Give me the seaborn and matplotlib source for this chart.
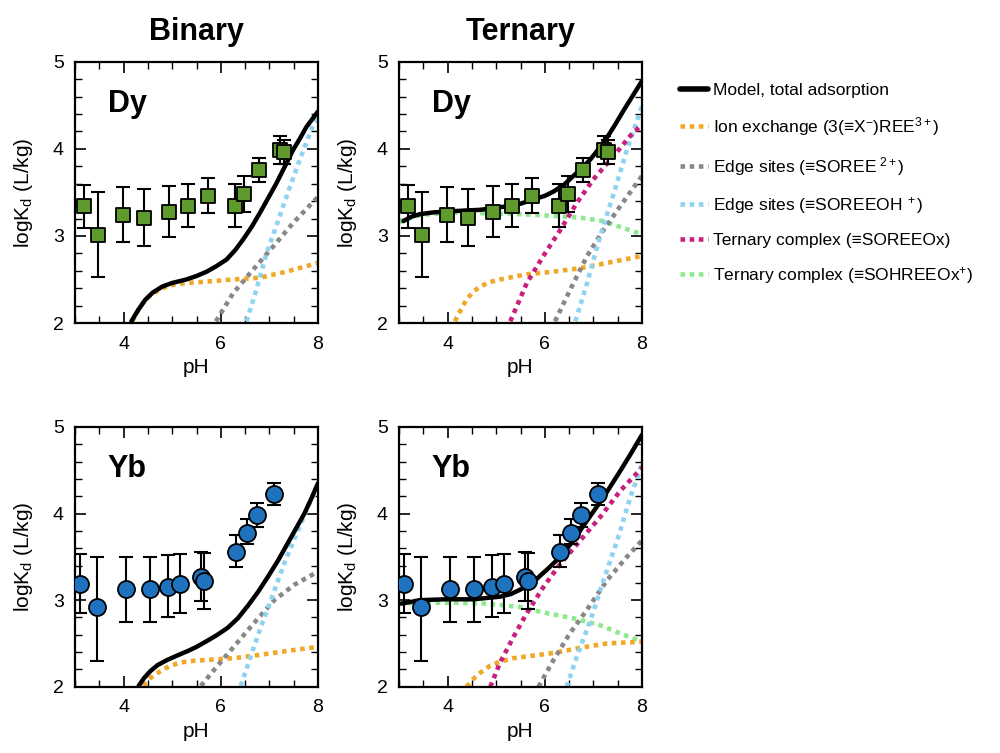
import numpy as np
import pandas as pd
import matplotlib
matplotlib.use("Agg")
import matplotlib.pyplot as plt
from matplotlib.lines import Line2D
from matplotlib.ticker import MultipleLocator
import seaborn as sns

# ---------------- data ----------------
# Dy measurements
dy_ph = [3.19, 3.47, 3.98, 4.42, 4.94, 5.33, 5.74, 6.29, 6.48, 6.78, 7.21, 7.30]
dy_logkd = [3.34, 3.01, 3.24, 3.21, 3.27, 3.34, 3.46, 3.34, 3.48, 3.76, 3.99, 3.96]
dy_err_hi = [3.59, 3.50, 3.56, 3.54, 3.57, 3.60, 3.67, 3.60, 3.69, 3.90, 4.15, 4.10]
dy_err_lo = [3.09, 2.53, 2.93, 2.89, 2.99, 3.10, 3.26, 3.10, 3.28, 3.62, 3.83, 3.83]

# Yb measurements
yb_ph = [3.10, 3.46, 4.05, 4.55, 4.91, 5.16, 5.60, 5.66, 6.32, 6.54, 6.74, 7.09]
yb_logkd = [3.19, 2.92, 3.13, 3.13, 3.15, 3.19, 3.27, 3.22, 3.56, 3.78, 3.98, 4.22]
yb_err_hi = [3.53, 3.50, 3.50, 3.50, 3.52, 3.53, 3.56, 3.55, 3.75, 3.94, 4.12, 4.35]
yb_err_lo = [2.85, 2.30, 2.75, 2.75, 2.81, 2.85, 2.99, 2.90, 3.38, 3.65, 3.85, 4.10]

# Binary Dy model curves
bdy_total_ph = [4.16, 4.30, 4.45, 4.60, 4.80, 5.00, 5.29, 5.50, 5.71, 5.90, 6.12, 6.30,
                6.46, 6.63, 6.80, 6.97, 7.14, 7.32, 7.49, 7.63, 7.76, 7.88, 8.00]
bdy_total = [2.02, 2.15, 2.27, 2.35, 2.42, 2.46, 2.50, 2.54, 2.59, 2.65, 2.73, 2.84,
             2.96, 3.10, 3.26, 3.43, 3.60, 3.80, 3.99, 4.12, 4.25, 4.34, 4.43]
bdy_ion_ph = [4.18, 4.30, 4.42, 4.54, 4.70, 4.85, 5.02, 5.30, 5.57, 6.25, 6.80, 7.35, 8.00]
bdy_ion = [2.02, 2.15, 2.25, 2.31, 2.37, 2.41, 2.44, 2.46, 2.47, 2.50, 2.52, 2.59, 2.69]
bdy_edge_ph = [5.90, 6.25, 6.66, 7.08, 7.49, 8.00]
bdy_edge = [2.02, 2.34, 2.61, 2.88, 3.15, 3.45]
bdy_edgeoh_ph = [6.53, 6.73, 6.94, 7.14, 7.35, 7.62, 7.90, 8.00]
bdy_edgeoh = [2.02, 2.38, 2.80, 3.11, 3.45, 3.87, 4.27, 4.35]

# Ternary Dy model curves
tdy_total_ph = [3.09, 3.25, 3.43, 3.70, 3.98, 4.30, 4.67, 4.95, 5.22, 5.50, 5.77, 6.00,
                6.18, 6.40, 6.59, 6.77, 6.94, 7.11, 7.28, 7.45, 7.62, 7.81, 8.00]
tdy_total = [3.17, 3.22, 3.25, 3.27, 3.28, 3.29, 3.30, 3.32, 3.34, 3.37, 3.42, 3.46,
             3.51, 3.59, 3.69, 3.78, 3.88, 4.00, 4.13, 4.28, 4.44, 4.61, 4.78]
tdy_ion_ph = [4.15, 4.27, 4.39, 4.53, 4.67, 4.87, 5.08, 5.35, 5.63, 6.18, 6.73, 7.28, 8.00]
tdy_ion = [2.02, 2.15, 2.27, 2.36, 2.42, 2.47, 2.50, 2.53, 2.56, 2.59, 2.63, 2.69, 2.77]
tdy_edge_ph = [6.21, 6.52, 6.87, 7.21, 7.55, 8.00]
tdy_edge = [2.02, 2.38, 2.77, 3.07, 3.34, 3.69]
tdy_edgeoh_ph = [6.63, 6.87, 7.14, 7.42, 7.69, 8.00]
tdy_edgeoh = [2.02, 2.46, 3.00, 3.49, 3.99, 4.49]
tdy_tern_ph = [5.29, 5.63, 5.97, 6.32, 6.66, 7.00, 7.42, 7.76, 8.00]
tdy_tern = [2.02, 2.46, 2.77, 3.07, 3.38, 3.65, 3.92, 4.15, 4.28]
tdy_ternh_ph = [3.00, 3.43, 4.12, 4.81, 5.49, 6.18, 6.73, 7.21, 7.62, 8.00]
tdy_ternh = [3.16, 3.24, 3.27, 3.26, 3.25, 3.23, 3.21, 3.17, 3.09, 3.02]

# Binary Yb model curves
byb_total_ph = [4.31, 4.42, 4.55, 4.70, 4.90, 5.10, 5.31, 5.50, 5.72, 5.93, 6.14, 6.35,
                6.55, 6.76, 6.97, 7.18, 7.38, 7.55, 7.72, 7.86, 8.00]
byb_total = [2.01, 2.10, 2.18, 2.25, 2.31, 2.36, 2.41, 2.46, 2.53, 2.60, 2.68, 2.79,
             2.93, 3.09, 3.27, 3.46, 3.66, 3.83, 4.00, 4.17, 4.35]
byb_ion_ph = [4.41, 4.55, 4.76, 4.95, 5.17, 5.45, 5.72, 6.28, 6.83, 7.45, 8.00]
byb_ion = [2.01, 2.10, 2.18, 2.24, 2.28, 2.30, 2.31, 2.33, 2.37, 2.42, 2.46]
byb_edge_ph = [5.59, 5.93, 6.28, 6.69, 7.10, 7.52, 8.00]
byb_edge = [2.01, 2.24, 2.47, 2.74, 3.00, 3.18, 3.33]
byb_edgeoh_ph = [6.41, 6.59, 6.83, 7.03, 7.31, 7.59, 7.86, 8.00]
byb_edgeoh = [2.01, 2.31, 2.70, 3.00, 3.43, 3.81, 4.16, 4.29]

# Ternary Yb model curves
tyb_total_ph = [3.05, 3.25, 3.43, 3.98, 4.53, 5.08, 5.30, 5.49, 5.63, 5.77, 5.90, 6.04,
                6.32, 6.59, 6.87, 7.21, 7.55, 7.78, 8.00]
tyb_total = [2.96, 2.98, 3.00, 3.01, 3.01, 3.04, 3.07, 3.12, 3.16, 3.21, 3.28, 3.35,
             3.50, 3.69, 3.92, 4.19, 4.49, 4.70, 4.91]
tyb_ion_ph = [4.39, 4.53, 4.67, 4.87, 5.08, 5.35, 5.63, 6.18, 6.73, 7.28, 8.00]
tyb_ion = [2.00, 2.09, 2.16, 2.24, 2.29, 2.33, 2.35, 2.39, 2.45, 2.50, 2.52]
tyb_edge_ph = [5.87, 6.18, 6.52, 6.87, 7.28, 7.69, 8.00]
tyb_edge = [2.00, 2.31, 2.62, 2.89, 3.23, 3.50, 3.69]
tyb_edgeoh_ph = [6.45, 6.66, 6.94, 7.21, 7.49, 7.76, 8.00]
tyb_edgeoh = [2.00, 2.35, 2.77, 3.23, 3.69, 4.19, 4.57]
tyb_tern_ph = [4.88, 5.08, 5.36, 5.63, 5.97, 6.32, 6.73, 7.14, 7.55, 8.00]
tyb_tern = [2.00, 2.28, 2.58, 2.85, 3.15, 3.42, 3.69, 3.96, 4.26, 4.53]
tyb_ternh_ph = [3.00, 3.43, 4.12, 4.81, 5.49, 6.04, 6.59, 7.14, 7.62, 8.00]
tyb_ternh = [2.96, 2.97, 2.97, 2.96, 2.92, 2.85, 2.79, 2.71, 2.60, 2.52]

legend_labels = [
    "Model, total adsorption",
    "Ion exchange (3(\u2261X$^{-}$)REE$^{3+}$)",
    "Edge sites (\u2261SOREE$^{\\ 2+}$)",
    "Edge sites (\u2261SOREEOH$^{\\ +}$)",
    "Ternary complex (\u2261SOREEOx)",
    "Ternary complex (\u2261SOHREEOx$^{+}$)",
]
col_titles = ["Binary", "Ternary"]
element_labels = ["Dy", "Yb"]

# ---------------- style ----------------
sns.set_theme(style="white")
plt.rcParams["font.family"] = ["Liberation Sans", "DejaVu Sans"]
plt.rcParams["mathtext.fontset"] = "custom"
plt.rcParams["mathtext.rm"] = "Liberation Sans"
plt.rcParams["mathtext.it"] = "Liberation Sans:italic"
for k in ["text.color", "axes.labelcolor", "xtick.color", "ytick.color"]:
    plt.rcParams[k] = "black"

C_TOTAL = "black"
C_ION = "#F0A828"
C_EDGE = "#888888"
C_EDGEOH = "#8ED3F0"
C_TERN = "#C8207E"
C_TERNH = "#8EE88E"
C_SQ = "#5E9A2C"
C_CI = "#1E72BE"

DOT = (0, (1, 1))
LW_DOT = 3.3

fig = plt.figure(figsize=(10, 7.53), dpi=100)
positions = {
    (0, 0): [0.075, 0.571, 0.243, 0.347],
    (0, 1): [0.399, 0.571, 0.243, 0.347],
    (1, 0): [0.075, 0.088, 0.243, 0.345],
    (1, 1): [0.399, 0.088, 0.243, 0.345],
}

panels = {
    (0, 0): dict(pts=(dy_ph, dy_logkd, dy_err_lo, dy_err_hi), marker="s", color=C_SQ, ms=100,
                 curves=[(bdy_ion_ph, bdy_ion, C_ION), (bdy_edge_ph, bdy_edge, C_EDGE),
                         (bdy_edgeoh_ph, bdy_edgeoh, C_EDGEOH)],
                 total=(bdy_total_ph, bdy_total)),
    (0, 1): dict(pts=(dy_ph, dy_logkd, dy_err_lo, dy_err_hi), marker="s", color=C_SQ, ms=100,
                 curves=[(tdy_ternh_ph, tdy_ternh, C_TERNH), (tdy_ion_ph, tdy_ion, C_ION),
                         (tdy_edge_ph, tdy_edge, C_EDGE), (tdy_edgeoh_ph, tdy_edgeoh, C_EDGEOH),
                         (tdy_tern_ph, tdy_tern, C_TERN)],
                 total=(tdy_total_ph, tdy_total)),
    (1, 0): dict(pts=(yb_ph, yb_logkd, yb_err_lo, yb_err_hi), marker="o", color=C_CI, ms=150,
                 curves=[(byb_ion_ph, byb_ion, C_ION), (byb_edge_ph, byb_edge, C_EDGE),
                         (byb_edgeoh_ph, byb_edgeoh, C_EDGEOH)],
                 total=(byb_total_ph, byb_total)),
    (1, 1): dict(pts=(yb_ph, yb_logkd, yb_err_lo, yb_err_hi), marker="o", color=C_CI, ms=150,
                 curves=[(tyb_ternh_ph, tyb_ternh, C_TERNH), (tyb_ion_ph, tyb_ion, C_ION),
                         (tyb_edge_ph, tyb_edge, C_EDGE), (tyb_edgeoh_ph, tyb_edgeoh, C_EDGEOH),
                         (tyb_tern_ph, tyb_tern, C_TERN)],
                 total=(tyb_total_ph, tyb_total)),
}

for (r, c), p in panels.items():
    ax = fig.add_axes(positions[(r, c)])
    for xs, ys, col in p["curves"]:
        sns.lineplot(x=xs, y=ys, ax=ax, color=col, lw=LW_DOT, linestyle=DOT,
                     sort=False, estimator=None, zorder=2)
    tx, ty = p["total"]
    sns.lineplot(x=tx, y=ty, ax=ax, color=C_TOTAL, lw=3.2, sort=False,
                 estimator=None, zorder=3)
    ph, val, lo, hi = p["pts"]
    val_a = np.array(val)
    yerr = [val_a - np.array(lo), np.array(hi) - val_a]
    ax.errorbar(ph, val, yerr=yerr, fmt="none", ecolor="black", elinewidth=1.5,
                capsize=5, capthick=1.5, zorder=4)
    df = pd.DataFrame({"pH": ph, "logKd": val})
    sns.scatterplot(data=df, x="pH", y="logKd", ax=ax, marker=p["marker"],
                    color=p["color"], s=p["ms"], edgecolor="black", linewidth=1.3,
                    zorder=5, legend=False)

    ax.set_xlim(3, 8)
    ax.set_ylim(2, 5)
    ax.set_xticks([4, 6, 8])
    ax.set_yticks([2, 3, 4, 5])
    ax.xaxis.set_minor_locator(MultipleLocator(0.5))
    ax.yaxis.set_minor_locator(MultipleLocator(0.2))
    ax.tick_params(which="both", direction="in", top=True, right=True,
                   bottom=True, left=True, color="black")
    ax.tick_params(which="major", length=8, width=1.2, labelsize=14)
    ax.tick_params(which="minor", length=5, width=1.0)
    ax.tick_params(axis="x", which="major", pad=9)
    ax.tick_params(axis="y", which="major", pad=8)
    for s in ax.spines.values():
        s.set_color("black")
        s.set_linewidth(1.6)
    ax.set_xlabel("pH", fontsize=15, labelpad=4)
    ax.set_ylabel("logK$_\\mathregular{d}$ (L/kg)", fontsize=15, labelpad=13)
    ax.text(0.135, 0.84, element_labels[r], transform=ax.transAxes,
            fontsize=22, fontweight="bold", ha="left", va="center")
    if r == 0:
        ax.set_title(col_titles[c], fontsize=22, fontweight="bold", pad=16)

handles = [
    Line2D([], [], color=C_TOTAL, lw=4),
    Line2D([], [], color=C_ION, lw=LW_DOT, linestyle=DOT),
    Line2D([], [], color=C_EDGE, lw=LW_DOT, linestyle=DOT),
    Line2D([], [], color=C_EDGEOH, lw=LW_DOT, linestyle=DOT),
    Line2D([], [], color=C_TERN, lw=LW_DOT, linestyle=DOT),
    Line2D([], [], color=C_TERNH, lw=LW_DOT, linestyle=DOT),
]
fig.legend(handles, legend_labels, loc="upper left", bbox_to_anchor=(0.673, 0.899),
           frameon=False, fontsize=12.5, handlelength=1.6, handletextpad=0.3,
           labelspacing=0.98, borderaxespad=0)

fig.savefig("out.png", dpi=100)
